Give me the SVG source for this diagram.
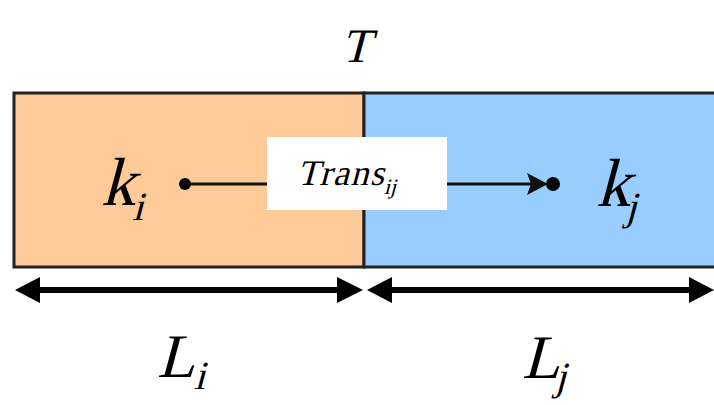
<svg xmlns="http://www.w3.org/2000/svg" width="714" height="405" viewBox="0 0 714 405">
<style>
text{font-family:'Liberation Serif','Times New Roman',serif;fill:#000}
.ln{stroke:#111;stroke-width:3;fill:none}
.dim{stroke:#000;stroke-width:6;fill:none}
</style>
<rect width="714" height="405" fill="#fff"/>
<g id="T" transform="translate(341,62) skewX(-15)"><text x="0" y="0" font-size="48">T</text></g>
<g id="seg-i"><rect x="14" y="93" width="350" height="174" fill="#FECB98" stroke="#222" stroke-width="3"/></g>
<g id="seg-j"><rect x="364" y="93" width="352" height="174" fill="#99CCFF" stroke="#222" stroke-width="3"/></g>
<g id="ki" transform="translate(101,205) skewX(-15)"><text x="0" y="0" font-size="68">k<tspan font-size="40" dx="1" dy="15">i</tspan></text></g>
<g id="kj" transform="translate(596,206) skewX(-15)"><text x="0" y="0" font-size="68">k<tspan font-size="40" dx="-1" dy="14">j</tspan></text></g>
<g id="connectors">
<circle cx="185" cy="184" r="6" fill="#000"/>
<line class="ln" x1="185" y1="184" x2="270" y2="184"/>
<line class="ln" x1="445" y1="184" x2="532" y2="184" stroke="#1a2a3a"/>
<polygon points="527,173 548,184 527,195 531,184" fill="#111"/>
<circle cx="553" cy="184" r="7" fill="#000"/>
<line class="dim" x1="30" y1="290" x2="350" y2="290"/>
<polygon points="15,290 40,277 40,303" fill="#000"/>
<polygon points="363,290 337,277 337,303" fill="#000"/>
<line class="dim" x1="382" y1="290" x2="700" y2="290"/>
<polygon points="367,290 392,277 392,303" fill="#000"/>
<polygon points="714,290 689,277 689,303" fill="#000"/>
</g>
<g id="trans"><rect x="267" y="137" width="180" height="73" fill="#fff"/>
<g transform="translate(297,185) skewX(-15)"><text x="0" y="0" font-size="36" letter-spacing="1.5">Trans<tspan font-size="22" dx="1" dy="9" letter-spacing="0">ij</tspan></text></g></g>
<g id="Li" transform="translate(157,377) skewX(-15)"><text x="0" y="0" font-size="62">L<tspan font-size="40" dx="2" dy="12">i</tspan></text></g>
<g id="Lj" transform="translate(522,378) skewX(-15)"><text x="0" y="0" font-size="62">L<tspan font-size="40" dx="-2" dy="12">j</tspan></text></g>
</svg>
